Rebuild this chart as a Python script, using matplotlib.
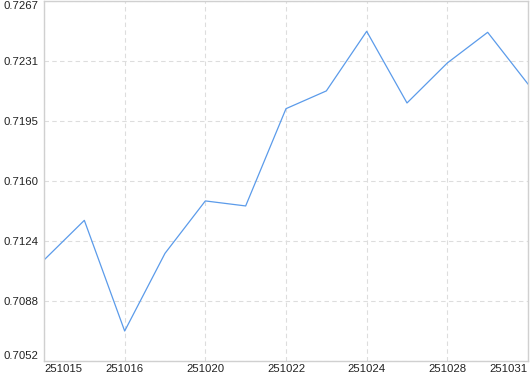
import matplotlib
matplotlib.use("Agg")
import matplotlib.pyplot as plt
import matplotlib.transforms as mtransforms
import numpy as np

# data
values = [0.71123, 0.71360, 0.70699, 0.71163, 0.71476, 0.71446, 0.72027,
          0.72133, 0.72489, 0.72061, 0.72300, 0.72483, 0.72174]
tick_idx = [0, 2, 4, 6, 8, 10, 12]
tick_labels = ['251015', '251016', '251020', '251022', '251024', '251028', '251031']
y_min, y_max = 0.7052, 0.7267

plt.rcParams['font.family'] = ['Liberation Sans', 'DejaVu Sans']

fig = plt.figure(figsize=(5.30, 3.74), dpi=100)
ax = fig.add_axes([44/530, 13/374, 484/530, 360/374])
x = np.arange(len(values))
ax.plot(x, values, color='#5b9bea', lw=0.9)
ax.set_xlim(0, len(values) - 1)
ax.set_ylim(y_min, y_max)

yt = np.linspace(y_min, y_max, 7)
ax.set_yticks(yt)
ylabels = ax.set_yticklabels([f'{v:.4f}' for v in yt], fontsize=8.2, color='#222222')
ylabels[0].set_va('bottom')
ylabels[-1].set_va('top')
ax.set_xticks(tick_idx)
xlabels = ax.set_xticklabels(tick_labels, fontsize=8.2, color='#222222')
xlabels[0].set_ha('left')
xlabels[-1].set_ha('right')
xlabels[-1].set_transform(xlabels[-1].get_transform() +
                          mtransforms.ScaledTranslation(-5/100, 0, fig.dpi_scale_trans))
ax.tick_params(axis='y', length=0, pad=4)
ax.tick_params(axis='x', length=0, pad=2)

ax.grid(True, color='#dddddd', linestyle=(0, (4, 3)), linewidth=0.8)
for s in ['left', 'bottom', 'top', 'right']:
    ax.spines[s].set_color('#d0d0d0')
    ax.spines[s].set_linewidth(1)

fig.savefig('out.png', dpi=100)
